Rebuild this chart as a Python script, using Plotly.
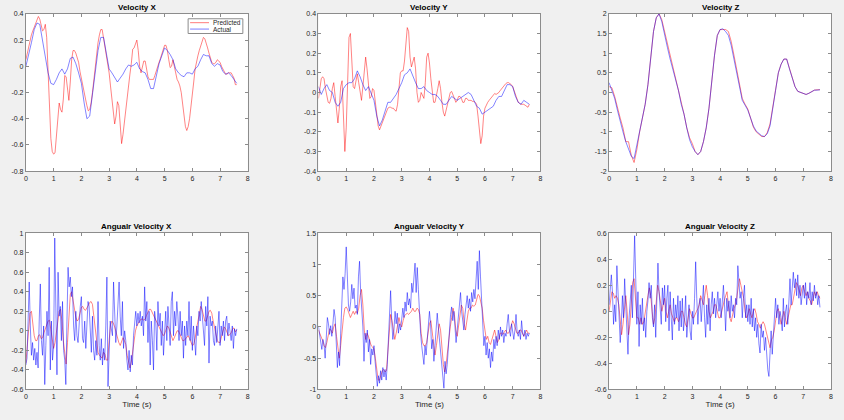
import plotly.graph_objects as go

# sample steps (s) for each recorded series
STEP_FINE = 0.04
STEP_MID = 0.05
STEP_COARSE = 0.1

# ---- Velocity X ----
vel_x_pred = [
    0.05, 0.10, 0.15, 0.20, 0.24, 0.27, 0.30, 0.33, 0.36, 0.38, 0.36, 0.31, 0.27, 0.28, 0.32, 0.22, 0.00, -0.30, -0.55, -0.65,
    -0.67, -0.66, -0.52, -0.36, -0.28, -0.33, -0.35, -0.25, -0.07, -0.08, -0.17, -0.26, -0.12, 0.05, 0.12, 0.12, 0.10, 0.07, 0.03, -0.04,
    -0.10, -0.15, -0.20, -0.25, -0.30, -0.34, -0.33, -0.28, -0.20, -0.10, 0.00, 0.09, 0.18, 0.24, 0.28, 0.28, 0.22, 0.16, 0.10, 0.03,
    -0.05, -0.15, -0.25, -0.38, -0.44, -0.38, -0.27, -0.30, -0.45, -0.59, -0.52, -0.42, -0.32, -0.24, -0.15, -0.06, 0.02, 0.13, 0.14, 0.18,
    0.20, 0.12, 0.00, -0.05, 0.00, 0.04, 0.04, -0.02, -0.08, -0.10, -0.10, -0.10, -0.10, -0.07, -0.03, 0.00, 0.03, 0.06, 0.10, 0.14,
    0.16, 0.16, 0.12, 0.05, -0.01, 0.00, 0.05, 0.00, -0.05, -0.10, -0.12, -0.15, -0.20, -0.28, -0.38, -0.46, -0.49, -0.46, -0.40, -0.32,
    -0.22, -0.12, -0.02, 0.04, 0.08, 0.12, 0.16, 0.20, 0.22, 0.21, 0.18, 0.14, 0.10, 0.06, 0.03, 0.02, 0.02, 0.03, 0.05, 0.04,
    0.03, 0.00, -0.02, -0.05, -0.06, -0.06, -0.05, -0.05, -0.05, -0.07, -0.09, -0.14, -0.14,
]
vel_x_act = [
    0.00, 0.08, 0.18, 0.28, 0.33, 0.32, 0.20, 0.05, -0.05, -0.13,
    -0.14, -0.10, -0.05, -0.02, -0.06, -0.02, 0.06, 0.07, 0.02, -0.05,
    -0.13, -0.28, -0.40, -0.38, -0.20, -0.02, 0.12, 0.22, 0.22, 0.10,
    -0.02, -0.05, -0.09, -0.12, -0.09, -0.06, -0.02, 0.01, 0.00, 0.01,
    0.03, -0.02, -0.04, -0.05, -0.10, -0.17, -0.17, -0.08, 0.02, 0.08,
    0.14, 0.12, 0.09, 0.05, -0.02, -0.05, -0.07, -0.08, -0.05, -0.05,
    -0.06, -0.02, 0.00, 0.05, 0.09, 0.08, 0.08, 0.02, 0.00, 0.02,
    0.01, -0.04, -0.06, -0.05, -0.07, -0.10, -0.13,
]

# ---- Velocity Y ----
vel_y_pred = [
    -0.03, 0.02, 0.07, 0.08, 0.07, 0.02, -0.02, -0.05, -0.055, -0.03, 0.02, 0.05, -0.02, -0.10, -0.155, -0.08, 0.03, 0.06, -0.15, -0.30,
    -0.18, 0.05, 0.28, 0.30, 0.15, 0.03, 0.02, 0.07, 0.095, 0.05, -0.01, -0.04, 0.03, 0.13, 0.18, 0.12, 0.03, -0.03, -0.02, 0.02,
    0.01, -0.05, -0.12, -0.17, -0.19, -0.17, -0.15, -0.13, -0.11, -0.09, -0.08, -0.075, -0.075, -0.08, -0.08, -0.09, -0.095, -0.06, 0.03, 0.10,
    0.11, 0.11, 0.16, 0.25, 0.33, 0.31, 0.18, 0.13, 0.16, 0.18, 0.12, 0.00, -0.05, -0.04, 0.00, -0.02, -0.03, 0.05, 0.18, 0.20,
    0.15, 0.07, 0.00, -0.05, -0.05, -0.02, 0.02, 0.06, 0.02, -0.05, -0.10, -0.12, -0.09, -0.05, -0.02, 0.00, 0.005, -0.01, -0.03, -0.05,
    -0.04, -0.02, -0.02, -0.03, -0.05, -0.05, -0.03, -0.03, -0.04, -0.04, -0.04, -0.045, -0.045, -0.05, -0.06, -0.12, -0.20, -0.26, -0.22, -0.12,
    -0.08, -0.06, -0.05, -0.04, -0.03, -0.02, -0.01, -0.005, -0.01, -0.005, 0.00, 0.01, 0.02, 0.03, 0.04, 0.045, 0.05, 0.05, 0.045, 0.04,
    0.03, 0.01, -0.01, -0.03, -0.05, -0.055, -0.06, -0.06, -0.06, -0.065, -0.07, -0.075, -0.06,
]
vel_y_act = [
    0.03, -0.01, 0.02, 0.04, 0.01, 0.00, -0.05, -0.07, -0.05, 0.02,
    0.04, 0.05, 0.05, 0.07, 0.11, 0.08, 0.04, 0.01, 0.03, -0.01,
    -0.04, -0.12, -0.17, -0.14, -0.10, -0.05, -0.05, -0.03, -0.01, 0.02,
    0.05, 0.09, 0.10, 0.12, 0.08, 0.05, 0.02, 0.02, 0.03, 0.01,
    0.00, -0.01, -0.01, -0.02, -0.04, -0.06, -0.06, -0.04, -0.02, -0.03,
    -0.04, -0.03, -0.02, -0.01, 0.00, -0.01, -0.04, -0.07, -0.08, -0.11,
    -0.10, -0.09, -0.08, -0.07, -0.04, -0.02, -0.02, 0.01, 0.04, 0.04,
    0.03, -0.02, -0.05, -0.06, -0.04, -0.05, -0.06,
]

# ---- Velocity Z ----
vel_z_pred = [
    0.15, 0.12, -0.10, -0.40, -0.65, -0.90, -1.25, -1.25, -1.60, -1.78,
    -1.45, -1.00, -0.62, -0.30, 0.20, 0.90, 1.55, 1.90, 2.00, 1.85,
    1.55, 1.25, 0.95, 0.68, 0.40, 0.10, -0.25, -0.55, -0.90, -1.15,
    -1.30, -1.50, -1.58, -1.50, -1.25, -0.90, -0.40, 0.30, 0.95, 1.45,
    1.60, 1.60, 1.60, 1.55, 1.30, 0.95, 0.55, 0.20, -0.15, -0.30,
    -0.42, -0.65, -0.88, -1.00, -1.07, -1.12, -1.12, -1.02, -0.80, -0.40,
    0.10, 0.50, 0.72, 0.85, 0.85, 0.60, 0.38, 0.15, 0.03, 0.00,
    -0.03, -0.05, -0.02, 0.03, 0.06, 0.07, 0.07,
]
vel_z_act = [
    0.25, 0.05, -0.15, -0.45, -0.75, -1.00, -1.25, -1.45, -1.62, -1.68,
    -1.35, -0.95, -0.60, -0.30, 0.20, 0.90, 1.55, 1.90, 2.00, 1.80,
    1.45, 1.15, 0.85, 0.60, 0.35, 0.05, -0.30, -0.55, -0.90, -1.20,
    -1.38, -1.50, -1.58, -1.50, -1.25, -0.90, -0.40, 0.30, 0.95, 1.45,
    1.60, 1.62, 1.55, 1.45, 1.20, 0.85, 0.50, 0.15, -0.20, -0.32,
    -0.45, -0.65, -0.85, -0.98, -1.05, -1.10, -1.12, -1.05, -0.85, -0.45,
    0.05, 0.50, 0.72, 0.85, 0.85, 0.60, 0.38, 0.15, 0.03, 0.00,
    -0.03, -0.05, -0.02, 0.03, 0.06, 0.06, 0.07,
]

# ---- Angular velocity X ----
ang_x_pred = [
    -0.33, -0.15, 0.05, 0.18, 0.20, 0.08, -0.05, -0.10, -0.10, -0.05, -0.04, -0.08, -0.07, -0.02, 0.02, 0.06, 0.10, 0.11, 0.02, -0.10,
    -0.18, -0.12, -0.02, 0.12, 0.20, 0.22, 0.10, -0.10, -0.25, -0.34, -0.12, 0.20, 0.37, 0.40, 0.30, 0.20, 0.14, 0.10, 0.12, 0.18,
    0.24, 0.25, 0.22, 0.21, 0.23, 0.26, 0.29, 0.30, 0.27, 0.15, -0.02, -0.15, -0.22, -0.25, -0.27, -0.28, -0.22, -0.24, -0.30, -0.30,
    -0.10, 0.06, 0.10, 0.08, 0.04, -0.02, -0.07, -0.12, -0.15, -0.10, -0.07, -0.10, -0.14, -0.25, -0.33, -0.38, -0.32, -0.20, -0.08, 0.00,
    0.05, 0.08, 0.10, 0.12, 0.12, 0.11, 0.12, 0.16, 0.20, 0.22, 0.22, 0.19, 0.16, 0.13, 0.10, 0.06, 0.03, 0.00, -0.03, -0.05,
    -0.03, 0.01, 0.05, 0.03, -0.01, -0.06, -0.10, -0.07, -0.03, 0.00, 0.00, -0.04, -0.08, -0.10, -0.10, -0.08, -0.06, -0.05, -0.08, -0.12,
    -0.15, -0.14, -0.08, 0.02, 0.10, 0.18, 0.25, 0.22, 0.15, 0.10, 0.10, 0.15, 0.20, 0.21, 0.18, 0.10, 0.02, -0.05, -0.10, -0.12,
    -0.12, -0.06, 0.00, 0.04, 0.02, -0.02, -0.05, -0.04, -0.02, 0.02, 0.03, -0.01, 0.01,
]
ang_x_act = [
    -0.35, -0.28, 0.10, 0.50, 0.05, -0.25, -0.12, -0.30, -0.18, -0.35, -0.22, -0.38, 0.10, 0.48, -0.10, -0.25, 0.05, -0.55, -0.15, 0.20, -0.05, 0.65, -0.40, 0.10, -0.30,
    -0.15, 0.95, 0.20, -0.45, 0.60, 0.15, 0.25, -0.10, 0.30, -0.20, -0.30, -0.55, 0.10, 0.65, 0.45, 0.55, 0.35, 0.45, 0.05, -0.10, 0.20, -0.05, -0.12, 0.15, 0.25,
    0.35, -0.08, -0.12, 0.10, -0.18, 0.12, 0.30, 0.25, -0.05, -0.22, 0.15, -0.20, -0.30, -0.10, -0.25, 0.30, -0.15, -0.30, -0.08, -0.35, -0.18, -0.30, 0.05, 0.55, -0.57,
    -0.20, 0.10, 0.02, -0.05, 0.50, 0.08, -0.12, 0.05, 0.30, 0.50, 0.15, -0.05, 0.30, -0.18, 0.00, -0.10, -0.30, -0.40, -0.20, -0.42, -0.25, -0.35, -0.05, 0.05, 0.20,
    0.05, 0.18, 0.08, 0.20, 0.05, 0.15, -0.05, 0.45, 0.10, 0.30, -0.12, 0.20, -0.35, 0.10, -0.10, -0.40, 0.20, 0.10, -0.20, 0.30, 0.05, 0.18, -0.15, 0.10, -0.25,
    0.05, 0.20, -0.10, 0.25, 0.05, -0.15, 0.30, 0.40, -0.05, 0.20, 0.05, 0.30, 0.15, -0.10, 0.20, -0.05, 0.10, -0.28, 0.05, -0.15, 0.10, -0.05, 0.30, -0.10, 0.15,
    -0.20, 0.05, -0.10, -0.25, 0.05, -0.05, 0.20, 0.10, 0.30, 0.15, 0.05, -0.15, 0.25, 0.05, 0.35, -0.33, 0.15, 0.05, 0.10, -0.10, -0.15, 0.05, -0.12, 0.00, 0.20,
    -0.15, 0.05, -0.05, 0.10, -0.10, 0.10, 0.15, -0.05, 0.08, 0.00, -0.10, 0.05, -0.18, 0.02, -0.05, 0.02,
]

# ---- Angular velocity Y ----
ang_y_pred = [
    -0.05, -0.10, -0.15, -0.22, -0.30, -0.33, -0.25, -0.10, -0.03, -0.05, -0.10, 0.00, 0.05, -0.15, -0.35, -0.50, -0.30, 0.00, 0.15, 0.30,
    0.32, 0.28, 0.20, 0.15, 0.20, 0.25, 0.20, 0.25, 0.22, 0.30, 0.50, 0.60, 0.35, -0.05, -0.20, -0.10, -0.15, -0.25, -0.30, -0.32,
    -0.35, -0.50, -0.70, -0.85, -0.85, -0.75, -0.70, -0.68, -0.72, -0.70, -0.40, 0.00, 0.20, 0.10, -0.10, -0.20, -0.10, 0.05, 0.15, 0.05,
    0.00, 0.10, 0.18, 0.20, 0.22, 0.20, 0.22, 0.25, 0.30, 0.25, 0.25, 0.30, 0.28, 0.20, -0.10, -0.25, -0.30, -0.30, -0.25, -0.10,
    0.05, 0.10, -0.10, -0.30, -0.45, -0.30, -0.10, 0.05, -0.05, -0.40, -0.60, -0.72, -0.60, -0.40, -0.15, 0.00, 0.15, 0.30, 0.20, -0.05,
    -0.15, 0.00, 0.20, 0.35, 0.30, 0.05, -0.05, 0.10, 0.25, 0.30, 0.30, 0.35, 0.33, 0.35, 0.45, 0.52, 0.50, 0.40, 0.30, 0.10,
    -0.10, -0.20, -0.15, -0.25, -0.28, -0.20, -0.10, -0.05, -0.15, -0.25, -0.20, -0.10, -0.10, -0.12, -0.08, -0.05, -0.10, -0.10, -0.05, 0.05,
    0.10, 0.05, -0.05, -0.10, -0.10, -0.05, -0.05, -0.10, -0.15, -0.10, -0.05, -0.10, -0.10,
]
ang_y_act = [
    0.00, -0.10, -0.25, -0.36, -0.20, -0.28, -0.50, -0.05, 0.15, 0.05, -0.12, 0.02, -0.15, 0.05, 0.28, 0.15, -0.30, -0.65, -0.40, -0.62, -0.10, 0.50, 0.80, 0.60, 0.85,
    1.28, 0.70, 0.35, 0.25, 0.40, 0.68, 0.45, 0.62, 0.30, 0.35, 0.20, 0.80, 1.05, 0.55, 0.30, 0.00, -0.55, -0.10, -0.25, -0.05, -0.40, -0.20, -0.60, -0.35, -0.45,
    -0.30, -0.55, -0.80, -0.95, -0.78, -0.90, -0.70, -0.85, -0.65, -0.80, -0.68, -0.85, -0.60, -0.10, 0.20, 0.58, 0.10, -0.20, -0.05, 0.25, 0.05, 0.22, -0.10, 0.05, -0.05,
    0.10, 0.30, 0.15, 0.40, 0.25, 0.55, 0.35, 0.45, 0.30, 0.70, 0.55, 0.80, 1.02, 0.55, 0.95, 0.60, 0.20, -0.10, -0.30, -0.45, -0.60, -0.30, -0.45, -0.20, 0.10,
    0.25, 0.05, -0.35, -0.20, -0.55, -0.30, 0.05, 0.22, 0.00, -0.20, -0.45, -0.60, -0.80, -0.98, -0.55, -0.75, -0.60, -0.30, 0.05, 0.20, 0.32, 0.10, 0.25, -0.10, -0.25,
    -0.05, 0.15, 0.35, 0.55, 0.25, 0.05, -0.05, 0.20, 0.35, 0.50, 0.30, 0.45, 0.25, 0.55, 0.40, 0.60, 0.45, 0.75, 1.05, 0.60, 1.22, 0.80, 0.50, 0.10, -0.30,
    -0.15, -0.45, -0.25, -0.50, -0.35, -0.65, -0.40, -0.55, -0.20, -0.35, -0.15, -0.30, -0.05, -0.20, 0.00, -0.15, -0.05, -0.25, -0.10, -0.15, 0.05, 0.20, -0.05, -0.15, 0.05,
    -0.10, -0.20, -0.05, 0.20, -0.08, -0.15, -0.05, -0.20, 0.10, -0.10, -0.15, -0.05, -0.20, -0.10, -0.15, -0.10,
]

# ---- Angular velocity Z ----
ang_z_pred = [
    0.00, 0.10, 0.15, 0.14, 0.10, 0.12, 0.10, 0.05, -0.10, -0.18, -0.10, 0.05, 0.12, 0.00, -0.18, -0.10, 0.10, 0.22, 0.25, 0.10,
    -0.05, -0.05, -0.10, -0.05, -0.10, -0.08, 0.00, 0.08, 0.12, 0.18, 0.12, 0.00, -0.10, -0.05, 0.10, 0.20, 0.15, 0.05, 0.00, 0.05,
    0.10, 0.00, -0.05, 0.00, 0.05, -0.02, -0.06, -0.08, -0.05, -0.05, -0.08, -0.05, 0.00, 0.00, -0.05, -0.10, -0.12, -0.05, 0.02, -0.02,
    -0.05, -0.05, -0.02, 0.00, 0.02, 0.05, 0.12, 0.08, 0.05, 0.12, 0.20, 0.12, 0.00, -0.05, -0.02, 0.00, 0.05, 0.05, 0.00, -0.05,
    -0.05, 0.00, 0.05, 0.08, 0.12, 0.15, 0.05, -0.05, -0.08, -0.02, 0.02, 0.05, 0.10, 0.18, 0.25, 0.20, 0.15, 0.10, 0.00, -0.05,
    -0.03, 0.02, -0.02, -0.05, 0.00, 0.02, -0.02, -0.08, -0.10, -0.13, -0.10, -0.08, -0.10, -0.15, -0.20, -0.25, -0.28, -0.22, -0.20, -0.15,
    -0.05, 0.00, 0.02, -0.05, -0.10, -0.05, 0.00, -0.05, -0.10, -0.05, 0.00, 0.05, 0.05, 0.10, 0.15, 0.22, 0.20, 0.15, 0.12, 0.18,
    0.20, 0.15, 0.12, 0.15, 0.10, 0.08, 0.05, 0.10, 0.15, 0.12, 0.15, 0.12, 0.10,
]
ang_z_act = [
    0.05, 0.15, 0.28, 0.15, -0.10, 0.05, -0.08, 0.35, 0.10, -0.05, -0.24, -0.10, 0.12, -0.05, 0.25, 0.05, -0.10, -0.33, -0.05, 0.10, 0.20, -0.05, 0.40, 0.58, 0.25,
    -0.10, 0.15, -0.27, 0.05, -0.10, 0.10, -0.15, -0.05, -0.20, 0.00, 0.08, 0.22, 0.10, 0.20, -0.05, -0.12, 0.05, -0.20, 0.15, 0.37, 0.15, 0.05, -0.10, 0.18, 0.05,
    0.20, -0.08, 0.10, 0.20, -0.15, 0.15, -0.05, -0.22, 0.10, -0.10, 0.05, -0.05, 0.12, -0.15, 0.08, -0.12, 0.10, -0.15, -0.05, 0.12, -0.20, -0.05, 0.05, -0.15, -0.22,
    0.00, -0.10, 0.10, 0.38, 0.10, -0.10, 0.05, 0.10, -0.08, 0.05, 0.20, -0.05, -0.20, 0.05, -0.10, 0.10, -0.15, 0.05, 0.15, -0.02, 0.10, -0.05, 0.05, 0.15, 0.00,
    0.10, -0.05, 0.05, 0.20, 0.05, -0.15, 0.10, 0.00, 0.08, -0.05, 0.12, 0.00, 0.05, -0.05, 0.10, 0.05, 0.35, 0.25, 0.10, 0.15, -0.05, 0.10, 0.20, -0.05, 0.05,
    -0.08, 0.05, -0.10, 0.10, -0.12, 0.02, -0.15, -0.05, -0.20, -0.10, -0.25, -0.32, -0.10, -0.20, -0.15, -0.30, -0.20, -0.35, -0.45, -0.50, -0.25, -0.15, -0.33, -0.20, 0.00,
    0.10, -0.05, 0.05, -0.10, 0.00, -0.05, -0.15, 0.10, -0.12, 0.00, 0.05, -0.10, 0.15, 0.25, 0.05, 0.15, 0.30, 0.18, 0.25, 0.12, 0.28, 0.10, 0.20, 0.05, 0.15,
    0.20, 0.10, 0.22, 0.05, 0.15, 0.10, 0.22, 0.05, 0.15, 0.08, 0.20, 0.10, 0.15, 0.05, 0.12, 0.03,
]

# panel titles (kept as in the source figure) and y tick labels
titles = ["Velocity X", "Velocity Y", "Velocity Z",
          "Angualr Velocity X", "Angualr Velocity Y", "Angualr Velocity Z"]
legend_names = ["Predicted", "Actual"]
x_ticks = [0, 1, 2, 3, 4, 5, 6, 7, 8]
y_ticks = [
    [-0.8, -0.6, -0.4, -0.2, 0, 0.2, 0.4],
    [-0.4, -0.3, -0.2, -0.1, 0, 0.1, 0.2, 0.3, 0.4],
    [-2, -1.5, -1, -0.5, 0, 0.5, 1, 1.5, 2],
    [-0.6, -0.4, -0.2, 0, 0.2, 0.4, 0.6, 0.8, 1],
    [-1, -0.5, 0, 0.5, 1, 1.5],
    [-0.6, -0.4, -0.2, 0, 0.2, 0.4, 0.6],
]

panels = [
    (vel_x_pred, STEP_MID, vel_x_act, STEP_COARSE),
    (vel_y_pred, STEP_MID, vel_y_act, STEP_COARSE),
    (vel_z_pred, STEP_COARSE, vel_z_act, STEP_COARSE),
    (ang_x_pred, STEP_MID, ang_x_act, STEP_FINE),
    (ang_y_pred, STEP_MID, ang_y_act, STEP_FINE),
    (ang_z_pred, STEP_MID, ang_z_act, STEP_FINE),
]


def times(values, step):
    return [round(i * step, 3) for i in range(len(values))]


def fmt(v):
    return "%g" % v


W, H = 844, 420
col_px = [(24, 247), (318, 541), (610, 833)]
row_px = [(10, 170), (233, 392)]

RED = "rgba(255,0,0,0.65)"
BLUE = "rgba(0,0,255,0.65)"
EDGE = "#8c8c8c"
FONT = "Liberation Sans, Arial, sans-serif"


def px(x, y):
    return x / W, 1 - y / H


fig = go.Figure()
layout = {}
annotations = []
shapes = []

for k, (pred, sp, act, sa) in enumerate(panels):
    r, c = divmod(k, 3)
    n = k + 1
    xa = "x" if n == 1 else "x%d" % n
    ya = "y" if n == 1 else "y%d" % n
    fig.add_trace(go.Scatter(x=times(pred, sp), y=pred, mode="lines", name=legend_names[0],
                             line=dict(color=RED, width=0.75), xaxis=xa, yaxis=ya))
    fig.add_trace(go.Scatter(x=times(act, sa), y=act, mode="lines", name=legend_names[1],
                             line=dict(color=BLUE, width=0.75), xaxis=xa, yaxis=ya))

    x0, x1 = col_px[c]
    ytop, ybot = row_px[r]
    yt = y_ticks[k]
    common = dict(showgrid=False, zeroline=False, showline=True, linecolor=EDGE,
                  linewidth=1, mirror="ticks", ticks="inside", ticklen=3,
                  tickcolor=EDGE, tickfont=dict(size=7, color="#262626", family=FONT))
    layout["xaxis" if n == 1 else "xaxis%d" % n] = dict(
        common, domain=[x0 / W, x1 / W], anchor=ya, range=[0, 8],
        tickvals=x_ticks, ticktext=[str(v) for v in x_ticks],
        title=dict(text="Time (s)" if r == 1 else "", font=dict(size=8, color="#262626", family=FONT), standoff=2),
    )
    layout["yaxis" if n == 1 else "yaxis%d" % n] = dict(
        common, domain=[1 - ybot / H, 1 - ytop / H], anchor=xa,
        range=[yt[0], yt[-1]], tickvals=yt, ticktext=[fmt(v) for v in yt],
    )
    annotations.append(dict(
        text="<b>%s</b>" % titles[k], x=(x0 + x1) / 2 / W, y=1 - ytop / H,
        xref="paper", yref="paper", xanchor="center", yanchor="bottom",
        showarrow=False, font=dict(size=8, color="#000000", family=FONT),
    ))

# compact MATLAB-style legend box inside the first panel
lx0, ly0 = px(187, 15)
lx1, ly1 = px(242, 30)
shapes.append(dict(type="rect", xref="paper", yref="paper", x0=lx0, x1=lx1, y0=ly1, y1=ly0,
                   line=dict(color=EDGE, width=1), fillcolor="#ffffff", layer="above"))
for name, colour, yy in [(legend_names[0], RED, 19), (legend_names[1], BLUE, 25.5)]:
    sx0, sy = px(189, yy)
    sx1, _ = px(208, yy)
    shapes.append(dict(type="line", xref="paper", yref="paper", x0=sx0, x1=sx1, y0=sy, y1=sy,
                       line=dict(color=colour, width=0.8), layer="above"))
    tx, _ = px(210, yy)
    annotations.append(dict(text=name, x=tx, y=sy, xref="paper", yref="paper",
                            xanchor="left", yanchor="middle", showarrow=False,
                            font=dict(size=6.5, color="#262626", family=FONT)))

fig.update_layout(
    **layout,
    annotations=annotations,
    shapes=shapes,
    showlegend=False,
    width=W, height=H,
    margin=dict(l=0, r=0, t=0, b=0),
    paper_bgcolor="#f0f0f0",
    plot_bgcolor="#ffffff",
    font=dict(family=FONT),
)

fig.write_html("out.html", config={"displayModeBar": False},
               post_script="document.body.style.margin='0';document.body.style.overflow='hidden';")
